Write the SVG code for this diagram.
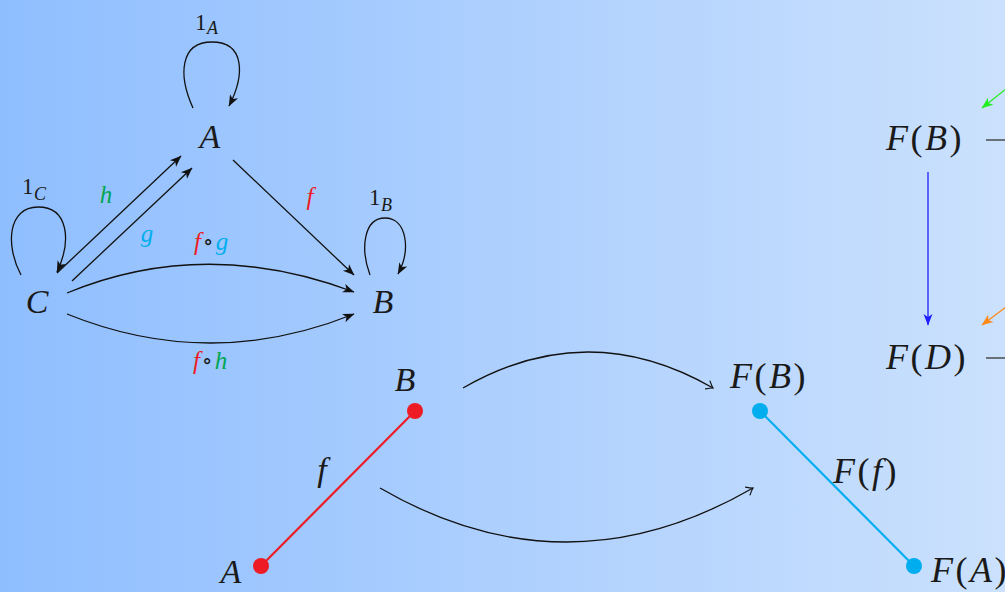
<svg xmlns="http://www.w3.org/2000/svg" width="1005" height="592" viewBox="0 0 1005 592">
<defs>
<linearGradient id="bg" x1="0" y1="0" x2="1" y2="0">
<stop offset="0" stop-color="#8fbeff"/>
<stop offset="1" stop-color="#cbe1fd"/>
</linearGradient>
<marker id="stk" markerUnits="userSpaceOnUse" viewBox="0 0 12 10" refX="11" refY="5" markerWidth="12" markerHeight="10" orient="auto" overflow="visible">
<path d="M0,0.5 L11.5,5 L0,9.5 L3,5 z" fill="#111"/>
</marker>
<marker id="stkBlue" markerUnits="userSpaceOnUse" viewBox="0 0 12 10" refX="11" refY="5" markerWidth="12" markerHeight="10" orient="auto" overflow="visible">
<path d="M0,0.5 L11.5,5 L0,9.5 L3,5 z" fill="#1f1fff"/>
</marker>
<marker id="stkGreen" markerUnits="userSpaceOnUse" viewBox="0 0 12 10" refX="11" refY="5" markerWidth="12" markerHeight="10" orient="auto" overflow="visible">
<path d="M0,0.5 L11.5,5 L0,9.5 L3,5 z" fill="#22ee22"/>
</marker>
<marker id="stkOrange" markerUnits="userSpaceOnUse" viewBox="0 0 12 10" refX="11" refY="5" markerWidth="12" markerHeight="10" orient="auto" overflow="visible">
<path d="M0,0.5 L11.5,5 L0,9.5 L3,5 z" fill="#ff8811"/>
</marker>
<marker id="open" markerUnits="userSpaceOnUse" viewBox="-8 -6 10 12" refX="0" refY="0" markerWidth="10" markerHeight="12" orient="auto" overflow="visible">
<path d="M-6,-4.5 Q-2,-1 0,0 Q-2,1 -6,4.5" fill="none" stroke="#111" stroke-width="1.2" stroke-linecap="round"/>
</marker>
</defs>
<style>
.m{font-family:"Liberation Serif","DejaVu Serif",serif;font-style:italic;fill:#1a1a1a;}
.r{font-family:"Liberation Serif","DejaVu Serif",serif;fill:#1a1a1a;}
.big{font-size:34px;}
.fl{font-size:36px;}
.ln{fill:none;stroke:#111;stroke-width:1.3;}
.red{fill:#ed1c24;}
.grn{fill:#00a651;}
.cyn{fill:#00aeef;}
</style>
<rect x="0" y="0" width="1005" height="592" fill="url(#bg)"/>

<g id="connectors">
<path class="ln" d="M193,108 C178,75 180,42 212,42 C245,42 245,75 229,106" marker-end="url(#stk)"/>
<path class="ln" d="M21,275 C5,245 8,207 38,207 C68,207 72,240 57,272" marker-end="url(#stk)"/>
<path class="ln" d="M370,275 C360,248 364,218 385,218 C407,218 411,250 398,274" marker-end="url(#stk)"/>
<path class="ln" d="M233,160 L354,275" marker-end="url(#stk)"/>
<path class="ln" d="M57,273 L181,156" marker-end="url(#stk)"/>
<path class="ln" d="M72,281 L192,168" marker-end="url(#stk)"/>
<path class="ln" d="M67,293 Q205,236 354,292" marker-end="url(#stk)"/>
<path class="ln" d="M67,314 Q210,372 354,314" marker-end="url(#stk)"/>
<path class="ln" d="M463,388 Q588,316 713,388" marker-end="url(#open)"/>
<path class="ln" d="M380,488 Q566,596 753,488" marker-end="url(#open)"/>
<line x1="261" y1="566" x2="415" y2="411" stroke="#ed1c24" stroke-width="2.2"/>
<line x1="760" y1="411" x2="914" y2="566" stroke="#00aeef" stroke-width="2.2"/>
<line x1="928" y1="172" x2="928" y2="325" stroke="#1f1fff" stroke-width="1.3" marker-end="url(#stkBlue)"/>
<line x1="1006" y1="89" x2="982" y2="108" stroke="#22ee22" stroke-width="1.2" marker-end="url(#stkGreen)"/>
<line x1="1006" y1="307" x2="982" y2="325" stroke="#ff8811" stroke-width="1.2" marker-end="url(#stkOrange)"/>
<line x1="986" y1="140" x2="1005" y2="140" stroke="#333" stroke-width="1.3"/>
<line x1="986" y1="358" x2="1005" y2="358" stroke="#333" stroke-width="1.3"/>
</g>

<g id="node-A"><text class="m big" x="210" y="148" text-anchor="middle">A</text></g>
<g id="node-C"><text class="m big" x="37" y="313" text-anchor="middle">C</text></g>
<g id="node-B"><text class="m big" x="383" y="313" text-anchor="middle">B</text></g>

<g id="labels-top">
<text class="r" x="195" y="30" font-size="23">1</text>
<text class="m" x="207" y="34" font-size="18">A</text>
<text class="r" x="22" y="194" font-size="23">1</text>
<text class="m" x="34" y="200" font-size="18">C</text>
<text class="r" x="369" y="205" font-size="23">1</text>
<text class="m" x="381" y="211" font-size="18">B</text>
<text class="m grn" x="106" y="203" font-size="25" text-anchor="middle">h</text>
<text class="m cyn" x="147" y="242" font-size="25" text-anchor="middle">g</text>
<text class="m red" x="310" y="205" font-size="25" text-anchor="middle">f</text>
<text x="211" y="250" font-size="25" text-anchor="middle" class="r"><tspan class="m red">f</tspan><tspan font-size="22" dy="-1" dx="2">∘</tspan><tspan class="m cyn" dy="1" dx="2">g</tspan></text>
<text x="210" y="369" font-size="25" text-anchor="middle" class="r"><tspan class="m red">f</tspan><tspan font-size="22" dy="-1" dx="2">∘</tspan><tspan class="m grn" dy="1" dx="2">h</tspan></text>
</g>

<g id="node-bottom-B"><text class="m big" x="405" y="391" text-anchor="middle">B</text><circle cx="415" cy="411" r="8" fill="#ed1c24"/></g>
<g id="node-bottom-A"><text class="m big" x="231" y="583" text-anchor="middle">A</text><circle cx="261" cy="566" r="8" fill="#ed1c24"/></g>
<g id="label-f"><text class="m big" x="322" y="481" text-anchor="middle">f</text></g>
<g id="node-FB"><text class="fl r" x="730" y="388" letter-spacing="2.5"><tspan class="m">F</tspan>(<tspan class="m">B</tspan>)</text><circle cx="760" cy="411" r="8" fill="#00aeef"/></g>
<g id="node-FA"><text class="fl r" x="931" y="582" letter-spacing="2.5"><tspan class="m">F</tspan>(<tspan class="m">A</tspan>)</text><circle cx="914" cy="566" r="8" fill="#00aeef"/></g>
<g id="label-Ff"><text class="fl r" x="833" y="483" letter-spacing="2.5"><tspan class="m">F</tspan>(<tspan class="m">f</tspan>)</text></g>

<g id="node-FB-right"><text class="fl r" x="886" y="150" letter-spacing="2.5"><tspan class="m">F</tspan>(<tspan class="m">B</tspan>)</text></g>
<g id="node-FD-right"><text class="fl r" x="886" y="369" letter-spacing="2.5"><tspan class="m">F</tspan>(<tspan class="m">D</tspan>)</text></g>
</svg>
